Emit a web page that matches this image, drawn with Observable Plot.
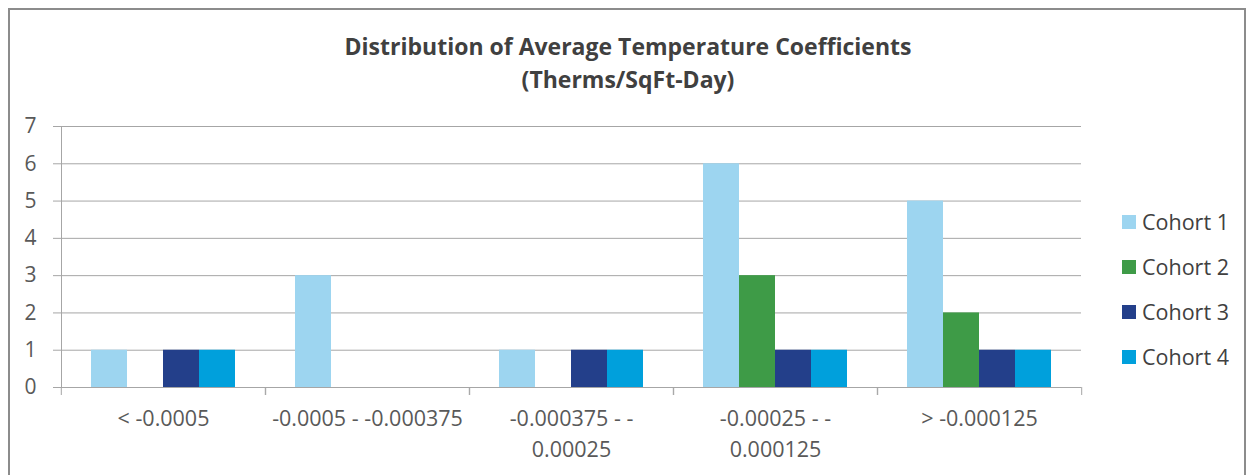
<!DOCTYPE html>
<html><head><meta charset="utf-8">
<script src="https://cdn.jsdelivr.net/npm/d3@7"></script>
<script src="https://cdn.jsdelivr.net/npm/@observablehq/plot@0.6"></script>
<style>
html,body{margin:0;padding:0;background:#fff;}
#wrap{position:relative;width:1256px;height:475px;overflow:hidden;font-family:"Open Sans",sans-serif;}
#border{position:absolute;left:8px;top:8px;width:1238px;height:520px;border:2px solid #8c8c8c;border-bottom:none;box-sizing:border-box;}
#title{position:absolute;left:0;top:30px;width:1256px;text-align:center;font-weight:bold;font-size:23px;color:#404040;line-height:33px;}
#chart{position:absolute;left:0;top:0;}
#legend{position:absolute;left:1122px;top:199px;}
.item{height:45px;display:flex;align-items:center;font-size:21.5px;color:#404040;}
.sw{width:14px;height:14px;margin-right:6px;}
</style></head>
<body>
<div id="wrap">
  <div id="border"></div>
  <div id="chart"></div>
  <div id="title">Distribution of Average Temperature Coefficients<br>(Therms/SqFt-Day)</div>
  <div id="legend"></div>
</div>
<script>
const categories = ["< -0.0005", "-0.0005 - -0.000375", "-0.000375 - -\n0.00025", "-0.00025 - -\n0.000125", "> -0.000125"];
const cohorts = ["Cohort 1", "Cohort 2", "Cohort 3", "Cohort 4"];
const cohort1 = [1, 3, 1, 6, 5];
const cohort2 = [0, 0, 0, 3, 2];
const cohort3 = [1, 0, 1, 1, 1];
const cohort4 = [1, 0, 1, 1, 1];
const colors = ["#9dd5f0", "#3e9b47", "#233f8a", "#00a0dc"];
const yTicks = [0, 1, 2, 3, 4, 5, 6, 7];

const series = [cohort1, cohort2, cohort3, cohort4];
const rows = [];
categories.forEach((c, i) => cohorts.forEach((k, j) => rows.push({category: c, cohort: k, value: series[j][i]})));

const W = 1256, H = 475, ML = 60, MR = 174, MT = 126, MB = 88;
const halfBand = (W - ML - MR) / categories.length / 2;
const grey = "#a6a6a6";

const chart = Plot.plot({
  width: W, height: H,
  marginLeft: ML, marginRight: MR, marginTop: MT, marginBottom: MB,
  style: {fontFamily: "Open Sans, sans-serif", fontSize: "16px", color: "#595959", background: "transparent"},
  fx: {domain: categories, padding: 0, axis: null, label: null},
  x: {domain: cohorts, paddingInner: 0, paddingOuter: 0.757, axis: null},
  y: {domain: [0, 7], axis: null},
  color: {domain: cohorts, range: colors},
  marks: [
    Plot.gridY(yTicks, {stroke: grey, strokeOpacity: 1}),
    Plot.axisY(yTicks, {tickSize: 8, tickPadding: 17, stroke: grey, strokeOpacity: 1, label: null, fontSize: 21}),
    Plot.frame({anchor: "left", stroke: grey, facet: "super"}),
    Plot.barY(rows.filter(d => d.value > 0), {fx: "category", x: "cohort", y: "value", fill: "cohort"}),
    Plot.ruleY([0], {stroke: grey}),
    Plot.axisFx({anchor: "bottom", tickSize: 0, tickPadding: 17, lineHeight: 1.44, label: null, fontSize: 21.5}),
    Plot.axisFx({anchor: "bottom", tickSize: 8, tickFormat: () => "", dx: -halfBand, stroke: grey, label: null}),
    Plot.axisFx({anchor: "bottom", tickSize: 8, tickFormat: () => "", dx: halfBand, stroke: grey, label: null})
  ]
});
document.getElementById("chart").appendChild(chart);

const legend = document.getElementById("legend");
cohorts.forEach((k, j) => {
  const it = document.createElement("div");
  it.className = "item";
  it.innerHTML = `<span class="sw" style="background:${colors[j]}"></span><span>${k}</span>`;
  legend.appendChild(it);
});
</script>
</body></html>
